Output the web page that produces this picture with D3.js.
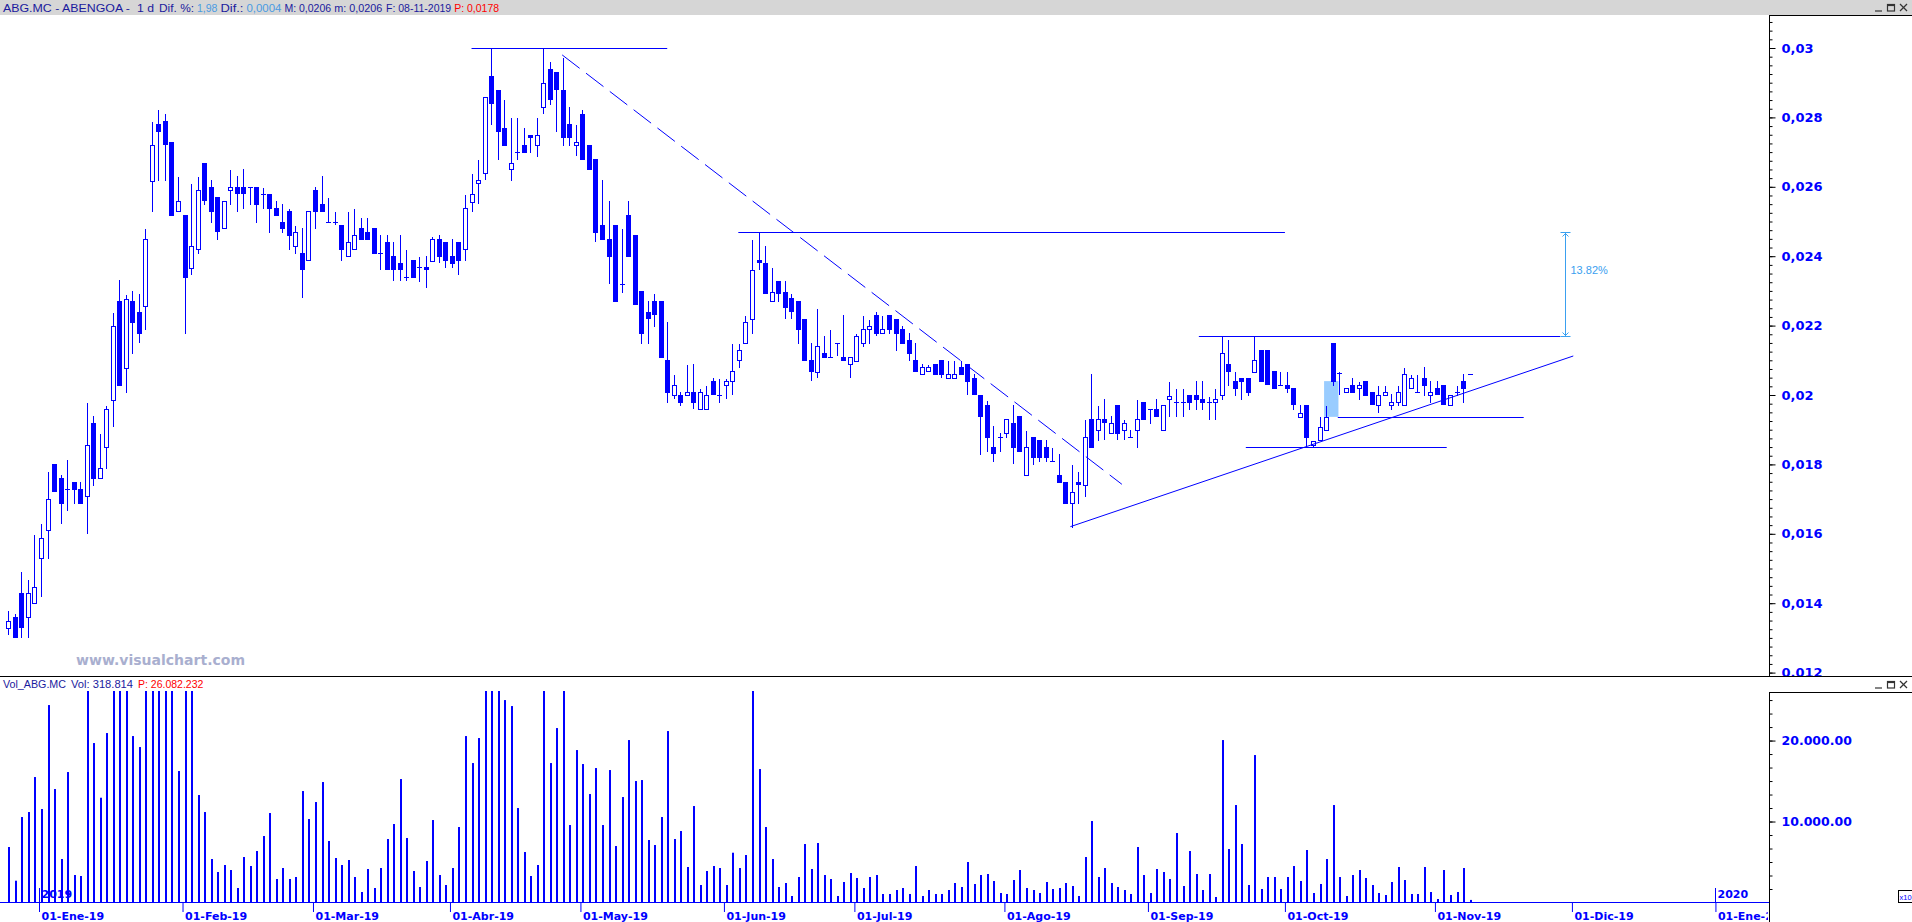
<!DOCTYPE html>
<html><head><meta charset="utf-8">
<script src="https://cdnjs.cloudflare.com/ajax/libs/d3/7.8.5/d3.min.js"></script>
<style>html,body{margin:0;padding:0;background:#fff;overflow:hidden}svg{display:block}</style>
</head><body>
<svg id="chart" width="1912" height="922"></svg>
<script>
// ---------------- DATA ----------------
const firstDay = "2018-12-21", lastTradeDay = "2019-11-08", axisLastDay = "2020-01-13";
const holidays = ["2018-12-25","2018-12-26","2019-01-01","2019-04-19","2019-04-22","2019-05-01"];

const opens = [0.01328,0.01360,0.01428,0.01360,0.01401,0.01530,0.01610,0.01801,0.01761,0.01728,
0.01748,0.01728,0.01708,0.01918,0.01760,0.01849,0.01987,0.02271,0.02078,0.02271,
0.02240,0.02257,0.02618,0.02781,0.02790,0.02729,0.02529,0.02518,0.02367,0.02420,
0.02669,0.02600,0.02570,0.02480,0.02590,0.02600,0.02600,0.02599,0.02600,0.02578,
0.02578,0.02538,0.02499,0.02530,0.02428,0.02408,0.02389,0.02591,0.02550,0.02499,
0.02499,0.02490,0.02400,0.02420,0.02480,0.02469,0.02480,0.02408,0.02440,0.02400,
0.02380,0.02339,0.02389,0.02368,0.02368,0.02387,0.02449,0.02441,0.02401,0.02441,
0.02420,0.02557,0.02610,0.02639,0.02919,0.02879,0.02769,0.02650,0.02699,0.02720,
0.02748,0.02720,0.02829,0.02939,0.02930,0.02879,0.02781,0.02720,0.02809,0.02720,
0.02680,0.02490,0.02450,0.02490,0.02320,0.02519,0.02461,0.02300,0.02238,0.02271,
0.02271,0.02101,0.02000,0.02000,0.01999,0.02009,0.01959,0.01959,0.02040,0.01999,
0.02028,0.02040,0.02101,0.02149,0.02218,0.02389,0.02380,0.02271,0.02328,0.02298,
0.02279,0.02270,0.02219,0.02101,0.02067,0.02121,0.02110,0.02149,0.02110,0.02088,
0.02099,0.02149,0.02189,0.02230,0.02178,0.02230,0.02219,0.02191,0.02159,0.02100,
0.02060,0.02068,0.02088,0.02101,0.02048,0.02048,0.02080,0.02088,0.02048,0.01999,
0.01971,0.01849,0.01880,0.01890,0.01919,0.01939,0.01769,0.01878,0.01870,0.01849,
0.01809,0.01769,0.01749,0.01688,0.01749,0.01740,0.01930,0.01899,0.01930,0.01890,
0.01971,0.01899,0.01878,0.01899,0.01980,0.01959,0.01959,0.01899,0.01988,0.01981,
0.01981,0.01999,0.01999,0.01988,0.01981,0.01980,0.01999,0.02089,0.02040,0.02048,
0.02048,0.02067,0.02130,0.02130,0.02069,0.02029,0.02029,0.02019,0.01937,0.01970,
0.01856,0.01870,0.01899,0.02151,0.02063,0.02008,0.02029,0.02019,0.02040,0.02010,
0.01970,0.01999,0.01970,0.01980,0.01970,0.02019,0.02008,0.02048,0.01999,0.02019,
0.02029,0.01970,0.02008,0.02040,0.02060];

const highs = [0.01378,0.01369,0.01490,0.01467,0.01596,0.01628,0.01779,0.01801,0.01769,0.01814,
0.01748,0.01748,0.01977,0.01940,0.01887,0.01969,0.02236,0.02330,0.02287,0.02299,
0.02290,0.02478,0.02787,0.02822,0.02810,0.02729,0.02628,0.02518,0.02608,0.02628,
0.02669,0.02620,0.02570,0.02559,0.02649,0.02631,0.02651,0.02599,0.02600,0.02596,
0.02578,0.02560,0.02551,0.02537,0.02487,0.02481,0.02530,0.02599,0.02631,0.02568,
0.02528,0.02490,0.02528,0.02537,0.02510,0.02510,0.02480,0.02460,0.02460,0.02440,
0.02460,0.02418,0.02389,0.02397,0.02401,0.02456,0.02461,0.02441,0.02449,0.02441,
0.02576,0.02637,0.02677,0.02858,0.03000,0.02879,0.02850,0.02797,0.02797,0.02769,
0.02748,0.02797,0.03000,0.02959,0.02930,0.02970,0.02829,0.02777,0.02821,0.02720,
0.02680,0.02620,0.02559,0.02490,0.02478,0.02559,0.02461,0.02300,0.02271,0.02291,
0.02271,0.02210,0.02058,0.02010,0.02086,0.02089,0.02016,0.02026,0.02048,0.02045,
0.02045,0.02147,0.02147,0.02228,0.02447,0.02469,0.02429,0.02365,0.02328,0.02328,
0.02290,0.02270,0.02219,0.02149,0.02248,0.02170,0.02187,0.02149,0.02230,0.02109,
0.02175,0.02227,0.02215,0.02239,0.02228,0.02230,0.02219,0.02199,0.02178,0.02149,
0.02090,0.02086,0.02088,0.02101,0.02098,0.02098,0.02098,0.02088,0.02061,0.01999,
0.01982,0.01911,0.01890,0.01930,0.01971,0.01939,0.01896,0.01878,0.01870,0.01870,
0.01847,0.01829,0.01749,0.01798,0.01779,0.01928,0.02061,0.01968,0.01988,0.01939,
0.01971,0.01928,0.01899,0.01986,0.01980,0.01959,0.01988,0.01970,0.02037,0.02017,
0.02017,0.01999,0.02040,0.02040,0.01993,0.02017,0.02170,0.02159,0.02067,0.02048,
0.02048,0.02170,0.02130,0.02130,0.02069,0.02067,0.02067,0.02019,0.01971,0.01970,
0.01868,0.01937,0.01968,0.02151,0.02067,0.02019,0.02048,0.02038,0.02040,0.02010,
0.02026,0.02026,0.02003,0.02026,0.02077,0.02058,0.02058,0.02082,0.02040,0.02040,
0.02029,0.01999,0.02026,0.02061,0.02060];

const lows = [0.01310,0.01302,0.01302,0.01302,0.01401,0.01422,0.01531,0.01722,0.01632,0.01669,
0.01690,0.01690,0.01601,0.01742,0.01760,0.01790,0.01910,0.02030,0.02010,0.02122,
0.02152,0.02190,0.02531,0.02620,0.02620,0.02520,0.02529,0.02178,0.02349,0.02410,
0.02551,0.02499,0.02449,0.02480,0.02551,0.02531,0.02540,0.02551,0.02499,0.02540,
0.02471,0.02520,0.02471,0.02422,0.02410,0.02281,0.02389,0.02481,0.02531,0.02499,
0.02493,0.02390,0.02400,0.02420,0.02450,0.02450,0.02410,0.02362,0.02362,0.02330,
0.02330,0.02331,0.02341,0.02329,0.02312,0.02387,0.02382,0.02370,0.02370,0.02349,
0.02389,0.02531,0.02552,0.02622,0.02781,0.02681,0.02721,0.02620,0.02681,0.02701,
0.02701,0.02690,0.02812,0.02839,0.02762,0.02721,0.02721,0.02691,0.02681,0.02652,
0.02443,0.02450,0.02322,0.02272,0.02298,0.02401,0.02261,0.02151,0.02151,0.02200,
0.02110,0.01981,0.01990,0.01971,0.01999,0.01962,0.01959,0.01959,0.02002,0.01981,
0.01990,0.02002,0.02082,0.02149,0.02180,0.02362,0.02293,0.02271,0.02272,0.02221,
0.02221,0.02151,0.02101,0.02043,0.02051,0.02110,0.02110,0.02115,0.02101,0.02051,
0.02099,0.02142,0.02149,0.02173,0.02178,0.02180,0.02130,0.02151,0.02101,0.02070,
0.02060,0.02068,0.02061,0.02051,0.02048,0.02048,0.02061,0.02002,0.02002,0.01830,
0.01839,0.01811,0.01839,0.01880,0.01803,0.01839,0.01769,0.01801,0.01811,0.01811,
0.01809,0.01750,0.01690,0.01620,0.01690,0.01710,0.01851,0.01870,0.01872,0.01890,
0.01872,0.01872,0.01878,0.01851,0.01932,0.01920,0.01939,0.01899,0.01939,0.01939,
0.01939,0.01959,0.01959,0.01959,0.01932,0.01932,0.01989,0.02029,0.02000,0.01989,
0.02000,0.02067,0.02040,0.02032,0.02021,0.02029,0.02010,0.01959,0.01937,0.01851,
0.01851,0.01870,0.01899,0.02029,0.02003,0.02008,0.02010,0.01989,0.02000,0.01973,
0.01952,0.01999,0.01959,0.01970,0.01970,0.02019,0.02008,0.02000,0.01981,0.02003,
0.01973,0.01970,0.01999,0.01981,0.02060];

const closes = [0.01348,0.01302,0.01331,0.01428,0.01448,0.01589,0.01699,0.01722,0.01690,0.01728,
0.01730,0.01690,0.01857,0.01761,0.01789,0.01960,0.02199,0.02030,0.02278,0.02210,
0.02179,0.02449,0.02720,0.02761,0.02722,0.02520,0.02560,0.02341,0.02430,0.02591,
0.02561,0.02531,0.02473,0.02559,0.02600,0.02581,0.02581,0.02599,0.02551,0.02578,
0.02540,0.02520,0.02482,0.02462,0.02469,0.02362,0.02530,0.02531,0.02531,0.02499,
0.02499,0.02422,0.02440,0.02460,0.02450,0.02450,0.02410,0.02408,0.02362,0.02362,
0.02362,0.02339,0.02341,0.02368,0.02362,0.02449,0.02401,0.02390,0.02381,0.02390,
0.02538,0.02579,0.02619,0.02858,0.02841,0.02762,0.02721,0.02668,0.02699,0.02701,
0.02743,0.02748,0.02898,0.02852,0.02881,0.02743,0.02743,0.02728,0.02681,0.02652,
0.02471,0.02450,0.02401,0.02272,0.02320,0.02401,0.02261,0.02180,0.02221,0.02233,
0.02110,0.02010,0.02029,0.01981,0.02009,0.01981,0.02009,0.01999,0.02002,0.01999,
0.02040,0.02069,0.02129,0.02210,0.02360,0.02382,0.02293,0.02298,0.02293,0.02253,
0.02241,0.02191,0.02101,0.02070,0.02141,0.02110,0.02110,0.02149,0.02101,0.02109,
0.02170,0.02189,0.02198,0.02180,0.02189,0.02191,0.02180,0.02151,0.02120,0.02070,
0.02080,0.02080,0.02061,0.02061,0.02061,0.02061,0.02061,0.02041,0.02002,0.01940,
0.01880,0.01832,0.01880,0.01930,0.01851,0.01839,0.01849,0.01820,0.01820,0.01820,
0.01809,0.01750,0.01690,0.01720,0.01743,0.01878,0.01851,0.01930,0.01921,0.01919,
0.01890,0.01919,0.01878,0.01930,0.01932,0.01959,0.01939,0.01970,0.01998,0.01981,
0.01981,0.01981,0.01989,0.01981,0.01981,0.01988,0.02120,0.02070,0.02021,0.02040,
0.02010,0.02100,0.02040,0.02032,0.02021,0.02029,0.02021,0.01973,0.01949,0.01880,
0.01868,0.01909,0.01937,0.02040,0.02063,0.02019,0.02010,0.02028,0.02000,0.01973,
0.01999,0.02009,0.01980,0.02009,0.02061,0.02048,0.02008,0.02029,0.02008,0.02003,
0.01973,0.01999,0.02008,0.02019,0.02060];

// volume, thousands of shares (values above 26082 are cut off at the panel top)
const volumes = [6852,2691,10556,11173,15494,11543,24383,14013,5370,16111,
3395,3272,28000,19692,12939,20926,28000,28000,28000,20556,
19198,28000,28000,28000,28000,28000,16235,28000,28000,13272,
11173,5370,3765,4630,4012,1790,5617,4506,6358,8210,
11050,2901,4259,2901,3148,13766,10309,12408,14877,7593,
5494,4630,5247,3148,1296,4136,1790,4259,7840,9692,
15247,7963,3889,1914,5124,10185,3395,2160,4259,9321,
20556,17222,20309,28000,28000,28000,25000,24260,11667,6235,
3272,4630,28000,17222,21543,28000,9568,18827,17099,13395,
16605,9568,16358,6975,13025,20062,15000,15123,7716,7099,
10556,21173,7840,8827,4383,11914,2160,3889,4506,4259,
2160,6148,4259,5864,28000,16482,9321,5370,1914,2407,
802,3148,7222,4136,7346,3395,2901,802,2531,3642,
3025,1790,3148,3395,1049,1049,1543,1790,1049,4506,
802,1543,1049,1049,1543,2407,1914,5000,2284,3395,
3519,2654,1173,1049,2778,4012,1790,1543,1173,2531,
1667,1790,2407,2037,802,5617,10062,3148,4259,2407,
1914,1543,1049,6852,3395,1173,4136,3765,2901,8580,
2037,6358,3519,1543,3519,679,20062,6605,12037,7222,
2160,18210,1667,3148,3148,1667,3148,4506,2654,6482,
1173,2284,5370,12037,3148,802,3395,4012,3025,2160,
1173,926,2531,4383,2778,1049,1049,4383,1296,432,
4012,926,1296,4259,319];

const priceTicks = [0.012,0.014,0.016,0.018,0.020,0.022,0.024,0.026,0.028,0.030];
const priceTickLabels = ["0,012","0,014","0,016","0,018","0,02","0,022","0,024","0,026","0,028","0,03"];
const volTicks = [10000,20000];
const volTickLabels = ["10.000.00","20.000.00"];
const monthKeys = ["2019-01","2019-02","2019-03","2019-04","2019-05","2019-06","2019-07","2019-08","2019-09","2019-10","2019-11","2019-12","2020-01"];
const monthLabels = ["01-Ene-19","01-Feb-19","01-Mar-19","01-Abr-19","01-May-19","01-Jun-19","01-Jul-19","01-Ago-19","01-Sep-19","01-Oct-19","01-Nov-19","01-Dic-19","01-Ene-20"];
const yearKeys = ["2019-01","2020-01"];
const yearLabels = ["2019","2020"];

// drawing annotations: positions in bar numbers (0 = first bar) and prices
const levels = [
  {from:71, to:101, price:0.03000},
  {from:111.9, to:195.7, price:0.02469},
  {from:182.5, to:237.9, price:0.02170},
  {from:203.8, to:232.3, price:0.019375},
  {from:189.7, to:220.5, price:0.01849}
];
const trendLines = [
  {b1:162.8, p1:0.016205, b2:239.9, p2:0.021124, dashed:false},
  {b1:84.9, p1:0.02980, b2:170.7, p2:0.017427, dashed:true}
];
const gapBox = {b1:201.7, b2:203.9, p1:0.01937, p2:0.02040};
const measure = {b:238.6, p1:0.02170, p2:0.02469, label:"13.82%"};

const headerTexts = [
  {t:"ABG.MC - ABENGOA -", x:3, w:127, k:"n"},
  {t:"1 d", x:137, w:17, k:"n"},
  {t:"Dif. %:", x:159, w:35, k:"n"},
  {t:"1,98", x:196, w:18, k:"l"},
  {t:"Dif.:", x:218, w:23, k:"n"},
  {t:"0,0004", x:243, w:35, k:"l"},
  {t:"M: 0,0206", x:282, w:46, k:"n"},
  {t:"m: 0,0206", x:334, w:48, k:"n"},
  {t:"F: 08-11-2019", x:386, w:57, k:"n"},
  {t:"P: 0,0178", x:446, w:44, k:"r"}
];
const volHeaderTexts = [
  {t:"Vol_ABG.MC", x:3, w:63, k:"n"},
  {t:"Vol: 318.814", x:71, w:62, k:"n"},
  {t:"P: 26.082.232", x:138, w:65, k:"r"}
];

// ---------------- RENDER ----------------
const BLUE = "#0000ff", NAVY = "#1b1b9e", LIGHT = "#4a9be2", RED = "#ff0000";
const colorOf = k => k === "n" ? NAVY : (k === "l" ? LIGHT : RED);

function buildDates() {
  const out = [];
  const d = new Date(firstDay + "T00:00:00Z");
  const end = new Date(axisLastDay + "T00:00:00Z");
  while (d <= end) {
    const wd = d.getUTCDay();
    const s = d.toISOString().slice(0, 10);
    if (wd !== 0 && wd !== 6 && !holidays.includes(s)) out.push(s);
    d.setUTCDate(d.getUTCDate() + 1);
  }
  return out;
}
const allDates = buildDates();
const tradeDates = allDates.slice(0, opens.length);

const svg = d3.select("#chart");
const W = 1912, H = 922;
const PLOT_R = 1769, MAIN_T = 15, MAIN_B = 676, VOL_T = 692, VOL_BASE = 902.5;

const x = d3.scalePoint().domain(allDates).range([8.4, 8.4 + (allDates.length - 1) * 6.523]);
const xb = b => x.range()[0] + b * x.step();
const y = d3.scaleLinear().domain([0.012, 0.030]).range([672.6, 48]);
const vy = d3.scaleLinear().domain([0, 26082]).range([VOL_BASE, 691.3]);

const defs = svg.append("defs");
defs.append("clipPath").attr("id", "mainClip").append("rect").attr("x", 0).attr("y", MAIN_T).attr("width", PLOT_R).attr("height", MAIN_B - MAIN_T);
defs.append("clipPath").attr("id", "volClip").append("rect").attr("x", 0).attr("y", 691).attr("width", PLOT_R).attr("height", 212);
defs.append("clipPath").attr("id", "pAxisClip").append("rect").attr("x", PLOT_R).attr("y", MAIN_T).attr("width", W - PLOT_R).attr("height", MAIN_B - MAIN_T);
defs.append("clipPath").attr("id", "xClip").append("rect").attr("x", 0).attr("y", 880).attr("width", PLOT_R - 1).attr("height", 42);

svg.append("rect").attr("width", W).attr("height", H).attr("fill", "#ffffff");
// header bar
svg.append("rect").attr("x", 0).attr("y", 0).attr("width", W).attr("height", MAIN_T).attr("fill", "#d6d6d6");

// text runs: one font size; each run starts at its measured place (or just after the previous run)
function placeRuns(runs, baseY, fs) {
  const g = svg.append("g");
  let prevEnd = -Infinity;
  runs.forEach(r => {
    const start = Math.max(r.x, prevEnd + 3);
    const t = g.append("text").attr("x", start).attr("y", baseY)
      .attr("font-family", "Liberation Sans, Arial, sans-serif").attr("font-size", fs)
      .attr("fill", colorOf(r.k)).text(r.t);
    const nat = t.node().getComputedTextLength();
    if (nat < r.w) t.attr("textLength", r.w).attr("lengthAdjust", "spacingAndGlyphs");
    prevEnd = start + Math.max(nat, r.w);
  });
}
placeRuns(headerTexts, 12, 10.5);

function windowButtons(y0) {
  const g = svg.append("g").attr("stroke", "#333").attr("stroke-width", 1.2).attr("fill", "none");
  g.append("line").attr("x1", 1875).attr("x2", 1882).attr("y1", y0 + 8).attr("y2", y0 + 8);
  g.append("rect").attr("x", 1887.5).attr("y", y0 + 1.5).attr("width", 7).attr("height", 6.5);
  g.append("line").attr("x1", 1887.5).attr("x2", 1894.5).attr("y1", y0 + 2.5).attr("y2", y0 + 2.5);
  g.append("line").attr("x1", 1900).attr("x2", 1907).attr("y1", y0 + 1).attr("y2", y0 + 8);
  g.append("line").attr("x1", 1907).attr("x2", 1900).attr("y1", y0 + 1).attr("y2", y0 + 8);
}
windowButtons(3);

// ---- main panel ----
const main = svg.append("g").attr("clip-path", "url(#mainClip)");
main.append("rect")
  .attr("x", xb(gapBox.b1)).attr("width", xb(gapBox.b2) - xb(gapBox.b1))
  .attr("y", y(gapBox.p2)).attr("height", y(gapBox.p1) - y(gapBox.p2))
  .attr("fill", "#99ccff");

const candles = d3.range(opens.length).map(i => ({
  d: tradeDates[i], o: opens[i], h: highs[i], l: lows[i], c: closes[i], v: volumes[i]
}));
const px = d => Math.round(x(d.d));

main.append("g").selectAll("line").data(candles.filter(d => d.h > d.l)).join("line")
  .attr("x1", d => px(d) + 0.5).attr("x2", d => px(d) + 0.5)
  .attr("y1", d => Math.round(y(d.h))).attr("y2", d => Math.round(y(d.l)) + 1)
  .attr("stroke", BLUE).attr("stroke-width", 1);

const bodyTop = d => Math.round(y(Math.max(d.o, d.c)));
const bodyBot = d => Math.round(y(Math.min(d.o, d.c)));
const doji = candles.filter(d => bodyBot(d) - bodyTop(d) < 1);
const down = candles.filter(d => bodyBot(d) - bodyTop(d) >= 1 && d.c < d.o);
const up = candles.filter(d => bodyBot(d) - bodyTop(d) >= 1 && d.c > d.o);

main.append("g").selectAll("rect").data(doji).join("rect")
  .attr("x", d => px(d) - 2).attr("y", d => bodyTop(d)).attr("width", 5).attr("height", 1).attr("fill", BLUE);
main.append("g").selectAll("rect").data(down).join("rect")
  .attr("x", d => px(d) - 2).attr("y", d => bodyTop(d)).attr("width", 5).attr("height", d => bodyBot(d) - bodyTop(d) + 1).attr("fill", BLUE);
main.append("g").selectAll("rect").data(up).join("rect")
  .attr("x", d => px(d) - 1.5).attr("y", d => bodyTop(d) + 0.5).attr("width", 4).attr("height", d => bodyBot(d) - bodyTop(d))
  .attr("fill", "#ffffff").attr("stroke", BLUE).attr("stroke-width", 1);

main.append("g").selectAll("line").data(levels).join("line")
  .attr("x1", d => xb(d.from)).attr("x2", d => xb(d.to))
  .attr("y1", d => Math.round(y(d.price)) + 0.5).attr("y2", d => Math.round(y(d.price)) + 0.5)
  .attr("stroke", BLUE).attr("stroke-width", 1);
main.append("g").selectAll("line").data(trendLines).join("line")
  .attr("x1", d => xb(d.b1)).attr("y1", d => y(d.p1)).attr("x2", d => xb(d.b2)).attr("y2", d => y(d.p2))
  .attr("stroke", BLUE).attr("stroke-width", 1).attr("stroke-dasharray", d => d.dashed ? "22,8" : null);

// measurement
(function () {
  const mx = Math.round(xb(measure.b)) + 0.5, y1 = Math.round(y(measure.p1)) + 0.5, y2 = Math.round(y(measure.p2)) + 0.5;
  const C = "#3aa0f0";
  const g = main.append("g").attr("stroke", C).attr("stroke-width", 1).attr("fill", "none");
  g.append("line").attr("x1", mx).attr("x2", mx).attr("y1", y2).attr("y2", y1);
  g.append("line").attr("x1", mx - 5).attr("x2", mx + 5).attr("y1", y2).attr("y2", y2);
  g.append("line").attr("x1", mx - 5).attr("x2", mx + 5).attr("y1", y1).attr("y2", y1);
  g.append("polyline").attr("points", `${mx - 3},${y2 + 4} ${mx},${y2 + 1} ${mx + 3},${y2 + 4}`);
  g.append("polyline").attr("points", `${mx - 3},${y1 - 4} ${mx},${y1 - 1} ${mx + 3},${y1 - 4}`);
  main.append("text").attr("x", mx + 5).attr("y", y2 + (y1 - y2) * 0.36 + 4)
    .attr("font-family", "Liberation Sans, Arial, sans-serif").attr("font-size", 11).attr("fill", C).text(measure.label);
})();

// watermark
svg.append("text").attr("x", 76).attr("y", 665).attr("textLength", 169).attr("lengthAdjust", "spacingAndGlyphs")
  .attr("font-family", "DejaVu Sans, sans-serif").attr("font-weight", "bold").attr("font-size", 14)
  .attr("fill", "#a9afcf").text("www.visualchart.com");

// price axis
const pAxis = svg.append("g").attr("clip-path", "url(#pAxisClip)");
const pa = pAxis.append("g").attr("transform", `translate(${PLOT_R + 0.5},0)`)
  .call(d3.axisRight(y).tickValues(d3.range(0.012, 0.0312, 0.00025)).tickSize(3).tickSizeOuter(0).tickFormat(""));
pa.select(".domain").remove();
pa.selectAll("line").attr("stroke", "#000");
const pb = pAxis.append("g").attr("transform", `translate(${PLOT_R + 0.5},0)`)
  .call(d3.axisRight(y).tickValues(priceTicks).tickSize(6).tickPadding(6).tickSizeOuter(0).tickFormat((d, i) => priceTickLabels[i]));
pb.select(".domain").remove();
pb.selectAll("line").attr("stroke", "#000");
pb.selectAll("text").attr("font-family", "DejaVu Sans, sans-serif").attr("font-weight", "bold").attr("font-size", 13).attr("fill", BLUE);

// frame lines
svg.append("line").attr("x1", PLOT_R + 0.5).attr("x2", PLOT_R + 0.5).attr("y1", MAIN_T).attr("y2", MAIN_B).attr("stroke", "#000");
svg.append("line").attr("x1", PLOT_R).attr("x2", W).attr("y1", MAIN_T + 0.5).attr("y2", MAIN_T + 0.5).attr("stroke", "#000");
svg.append("line").attr("x1", 0).attr("x2", W).attr("y1", MAIN_B + 0.5).attr("y2", MAIN_B + 0.5).attr("stroke", "#000");
svg.append("line").attr("x1", PLOT_R).attr("x2", W).attr("y1", VOL_T + 0.5).attr("y2", VOL_T + 0.5).attr("stroke", "#000");
svg.append("line").attr("x1", PLOT_R + 0.5).attr("x2", PLOT_R + 0.5).attr("y1", VOL_T).attr("y2", H).attr("stroke", "#000");

// ---- volume panel ----
placeRuns(volHeaderTexts, 688, 10.5);
windowButtons(680);

const vol = svg.append("g").attr("clip-path", "url(#volClip)");
vol.selectAll("rect").data(candles).join("rect")
  .attr("x", d => px(d)).attr("width", 2)
  .attr("y", d => vy(d.v)).attr("height", d => VOL_BASE - vy(d.v)).attr("fill", BLUE);

const va = svg.append("g").attr("transform", `translate(${PLOT_R + 0.5},0)`)
  .call(d3.axisRight(vy).tickValues(d3.range(10000 / 6, 26082, 10000 / 6)).tickSize(3).tickSizeOuter(0).tickFormat(""));
va.select(".domain").remove();
va.selectAll("line").attr("stroke", "#000");
const vb = svg.append("g").attr("transform", `translate(${PLOT_R + 0.5},0)`)
  .call(d3.axisRight(vy).tickValues(volTicks).tickSize(6).tickPadding(6).tickSizeOuter(0).tickFormat((d, i) => volTickLabels[i]));
vb.select(".domain").remove();
vb.selectAll("line").attr("stroke", "#000");
vb.selectAll("text").attr("font-family", "DejaVu Sans, sans-serif").attr("font-weight", "bold").attr("font-size", 12.5).attr("fill", BLUE);

// x10 box
svg.append("rect").attr("x", 1898.5).attr("y", 890.5).attr("width", 14).attr("height", 12).attr("fill", "#fff").attr("stroke", "#000");
svg.append("text").attr("x", 1899.5).attr("y", 900).attr("font-family", "Liberation Sans, Arial, sans-serif").attr("font-size", 7.5).attr("fill", BLUE).text("x10");

// ---- date axis ----
const monthDates = monthKeys.map(k => allDates.find(s => s.startsWith(k)));
const xg = svg.append("g").attr("clip-path", "url(#xClip)");
const xa = xg.append("g").attr("transform", `translate(-2,${VOL_BASE - 0.5})`)
  .call(d3.axisBottom(x).tickValues(monthDates).tickSize(10).tickPadding(0).tickSizeOuter(0).tickFormat((d, i) => monthLabels[i]));
xa.select(".domain").remove();
xa.selectAll("line").attr("stroke", BLUE);
xa.selectAll("text").attr("text-anchor", "start").attr("dx", 2)
  .attr("font-family", "DejaVu Sans, sans-serif").attr("font-weight", "bold").attr("font-size", 11).attr("fill", BLUE);
svg.append("line").attr("x1", 0).attr("x2", PLOT_R).attr("y1", VOL_BASE).attr("y2", VOL_BASE).attr("stroke", BLUE).attr("stroke-width", 1.2);

const yearDates = yearKeys.map(k => allDates.find(s => s.startsWith(k)));
const yg = xg.append("g");
yg.selectAll("line").data(yearDates).join("line")
  .attr("x1", d => Math.round(x(d)) - 1.5).attr("x2", d => Math.round(x(d)) - 1.5)
  .attr("y1", 888).attr("y2", VOL_BASE).attr("stroke", BLUE);
yg.selectAll("text").data(yearDates).join("text")
  .attr("x", d => Math.round(x(d)) + 0.5).attr("y", 898)
  .attr("font-family", "DejaVu Sans, sans-serif").attr("font-weight", "bold").attr("font-size", 11).attr("fill", BLUE)
  .text((d, i) => yearLabels[i]);
</script>
</body></html>
